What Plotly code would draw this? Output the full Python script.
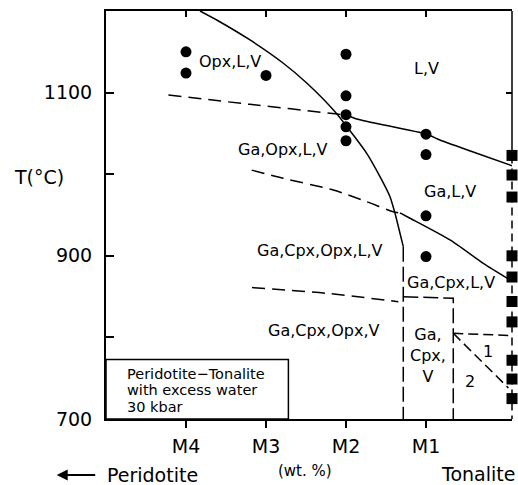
import plotly.graph_objects as go

# ---------------- data ----------------
x_tickvals = [1, 2, 3, 4]
x_ticktext = ["M4", "M3", "M2", "M1"]
x_tonalite = 5.075
y_tickvals = [700, 800, 900, 1000, 1100]
y_ticktext = ["700", "", "900", "", "1100"]

# experimental runs (circles: mixtures, squares: tonalite)
circle_x = [1, 1, 2, 3, 3, 3, 3, 3, 4, 4, 4, 4]
circle_t = [1150, 1124, 1121, 1147, 1096, 1073, 1058, 1041, 1049, 1024, 949, 899]
square_x = [5.075] * 10
square_t = [1023, 999, 972, 900, 874, 844, 819, 772, 749, 725]

# phase boundaries
opx_out_x = [1.175, 1.384, 1.8, 2.2125, 2.509, 2.8625, 3.091, 3.259, 3.425, 3.55, 3.6125, 3.675, 3.716]
opx_out_t = [1200, 1189, 1164.5, 1136.3, 1111.8, 1076.6, 1048, 1025.6, 997, 972.4, 952.1, 927.6, 911.2]
opx_out_dash_x = [3.716, 3.716]
opx_out_dash_t = [911.2, 700]

liq_dash_x = [0.78, 1.8, 2.8625, 3.025]
liq_dash_t = [1097, 1085.6, 1074, 1071.7]
liq_solid_x = [3.025, 3.134, 4.009, 4.175, 4.634, 5.075]
liq_solid_t = [1071.9, 1067.6, 1048.9, 1041.9, 1025.6, 1010.4]

ga_dash_x = [1.821, 2.216, 2.842, 3.259, 3.591, 3.675]
ga_dash_t = [1005, 995, 980.6, 966.3, 954, 952.5]
ga_solid_x = [3.675, 3.8, 4.3, 4.716, 5.075]
ga_solid_t = [952.5, 946, 919.4, 890.8, 869]

sol_dash_x = [1.825, 2.759, 3.654]
sol_dash_t = [861, 854, 843.8]
box_x = [3.716, 4.341, 4.341]
box_t = [849.9, 847.9, 700]

f1_x = [4.341, 5.075]
f1_t = [805, 802.3]
f2_x = [4.341, 5.03]
f2_t = [805, 738]

region_labels = ["Opx,L,V", "L,V", "Ga,Opx,L,V", "Ga,L,V", "Ga,Cpx,Opx,L,V",
                 "Ga,Cpx,L,V", "Ga,Cpx,Opx,V", "Ga,<br>Cpx,<br>V", "1", "2"]
region_x = [1.55, 4.008, 2.21, 4.3, 2.671, 4.31, 2.716, 4.02, 4.779, 4.55]
region_t = [1138, 1129, 1030.5, 979.4, 907.1, 867.5, 809, 778.4, 782.5, 745.7]

box_lines = ["Peridotite\u2212Tonalite", "with excess water", "30 kbar"]
box_lines_t = [755.4, 735.2, 715.0]

FONT = "DejaVu Sans"
BLACK = "black"

fig = go.Figure()

def add_line(xs, ts, dash="solid", width=1.5, shape="spline"):
    fig.add_trace(go.Scatter(x=xs, y=ts, mode="lines",
                             line=dict(color=BLACK, width=width, dash=dash, shape=shape, smoothing=0.6),
                             hoverinfo="skip", showlegend=False, cliponaxis=False))

DASH = "13px,7px"
VDASH = "15px,5px"
add_line(opx_out_x, opx_out_t)
add_line(opx_out_dash_x, opx_out_dash_t, VDASH, shape="linear")
add_line(liq_dash_x, liq_dash_t, DASH)
add_line(liq_solid_x, liq_solid_t)
add_line(ga_dash_x, ga_dash_t, DASH)
add_line(ga_solid_x, ga_solid_t)
add_line(sol_dash_x, sol_dash_t, DASH)
add_line(box_x, box_t, VDASH, shape="linear")
add_line(f1_x, f1_t, "10px,5px", shape="linear")
add_line(f2_x, f2_t, "10px,5px", shape="linear")

fig.add_trace(go.Scatter(x=circle_x, y=circle_t, mode="markers",
                         marker=dict(symbol="circle", size=11, color=BLACK),
                         showlegend=False, cliponaxis=False))
fig.add_trace(go.Scatter(x=square_x, y=square_t, mode="markers",
                         marker=dict(symbol="square", size=11, color=BLACK),
                         showlegend=False, cliponaxis=False))

# invisible trace to activate the mirror axes
fig.add_trace(go.Scatter(x=[1], y=[1100], xaxis="x2", yaxis="y2", mode="markers",
                         marker=dict(opacity=0), showlegend=False, hoverinfo="skip"))

annotations = []
for txt, xv, tv in zip(region_labels, region_x, region_t):
    annotations.append(dict(x=xv, y=tv, xref="x", yref="y", text=txt, showarrow=False,
                            font=dict(family=FONT, size=16, color=BLACK),
                            xanchor="center", yanchor="middle"))
for txt, tv in zip(box_lines, box_lines_t):
    annotations.append(dict(x=0.2375, y=tv, xref="x", yref="y", text=txt, showarrow=False,
                            font=dict(family=FONT, size=14.5, color=BLACK),
                            xanchor="left", yanchor="middle"))

annotations += [
    dict(x=-0.164, y=997, xref="paper", yref="y", text="T(\u00b0C)", showarrow=False,
         font=dict(family=FONT, size=19, color=BLACK), xanchor="center", yanchor="middle"),
    dict(x=-0.0025, y=-0.137, xref="paper", yref="paper", text="Peridotite", showarrow=False,
         font=dict(family=FONT, size=19, color=BLACK), xanchor="left", yanchor="middle"),
    dict(x=0.49, y=-0.127, xref="paper", yref="paper", text="(wt. %)", showarrow=False,
         font=dict(family=FONT, size=15, color=BLACK), xanchor="center", yanchor="middle"),
    dict(x=1.0123, y=-0.1355, xref="paper", yref="paper", text="Tonalite", showarrow=False,
         font=dict(family=FONT, size=19, color=BLACK), xanchor="right", yanchor="middle"),
    dict(x=-0.1214, y=-0.137, xref="paper", yref="paper", text="", showarrow=True,
         ax=40, ay=0, arrowhead=2, arrowsize=1.1, arrowwidth=2, arrowcolor=BLACK),
]

shapes = [
    dict(type="rect", xref="x", yref="y", x0=0, x1=2.28, y0=700, y1=773,
         line=dict(color=BLACK, width=1.5), fillcolor="rgba(0,0,0,0)"),
    dict(type="line", xref="paper", yref="y", x0=1, x1=1, y0=1200, y1=1023,
         line=dict(color=BLACK, width=1.5)),
    dict(type="line", xref="paper", yref="y", x0=1, x1=1, y0=1023, y1=700,
         line=dict(color=BLACK, width=1.5, dash="8px,5px")),
]

tickfont = dict(family=FONT, size=19, color=BLACK)
fig.update_layout(
    width=518, height=485,
    margin=dict(l=106, r=6, t=11, b=66),
    paper_bgcolor="white", plot_bgcolor="white",
    showlegend=False,
    xaxis=dict(range=[0, x_tonalite], tickvals=x_tickvals, ticktext=x_ticktext,
               ticks="outside", ticklen=7, tickwidth=1.5, tickcolor=BLACK,
               showline=True, linecolor=BLACK, linewidth=2, showgrid=False, zeroline=False,
               tickfont=tickfont, ticklabelstandoff=2),
    xaxis2=dict(range=[0, x_tonalite], overlaying="x", side="top", tickvals=x_tickvals,
                ticks="inside", ticklen=6, tickwidth=1.5, tickcolor=BLACK, showticklabels=False,
                showline=True, linecolor=BLACK, linewidth=2, showgrid=False, zeroline=False),
    yaxis=dict(range=[700, 1200], tickvals=y_tickvals, ticktext=y_ticktext,
               ticks="inside", ticklen=8, tickwidth=1.5, tickcolor=BLACK,
               showline=True, linecolor=BLACK, linewidth=2, showgrid=False, zeroline=False,
               tickfont=tickfont, ticklabelstandoff=8),
    yaxis2=dict(range=[700, 1200], overlaying="y", side="right", tickvals=[1100],
                ticks="inside", ticklen=6, tickwidth=1.5, tickcolor=BLACK, showticklabels=False,
                showline=False, showgrid=False, zeroline=False),
    annotations=annotations,
    shapes=shapes,
)

fig.write_html("out.html")
